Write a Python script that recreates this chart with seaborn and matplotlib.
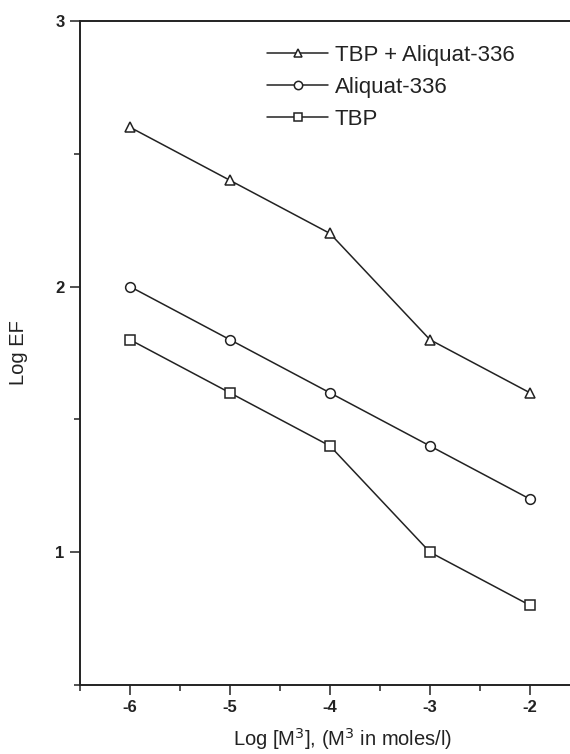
import pandas as pd
import seaborn as sns
import matplotlib.pyplot as plt
from matplotlib.ticker import MultipleLocator

# data
log_m = [-6, -5, -4, -3, -2]
tbp_aliquat = [2.6, 2.4, 2.2, 1.8, 1.6]
aliquat = [2.0, 1.8, 1.6, 1.4, 1.2]
tbp = [1.8, 1.6, 1.4, 1.0, 0.8]
series_names = ['TBP + Aliquat-336', 'Aliquat-336', 'TBP']
series_markers = ['^', 'o', 's']

df = pd.concat([
    pd.DataFrame({'x': log_m, 'y': vals, 'series': name})
    for name, vals in zip(series_names, [tbp_aliquat, aliquat, tbp])
])

sns.set_style('ticks')
plt.rcParams['font.family'] = ['Liberation Sans', 'DejaVu Sans']
plt.rcParams['axes.unicode_minus'] = False
plt.rcParams['xtick.labelsize'] = 12
plt.rcParams['ytick.labelsize'] = 12

fig = plt.figure(figsize=(5.7, 7.54), dpi=100)
ax = fig.add_axes([80 / 570, 1 - 685 / 754, 490 / 570, 664 / 754])

ink = '#222222'
sns.lineplot(data=df, x='x', y='y', hue='series', style='series',
             hue_order=series_names, style_order=series_names,
             palette=[ink] * 3, markers=dict(zip(series_names, series_markers)),
             dashes=False, linewidth=1.1, markersize=7,
             markerfacecolor='white', markeredgecolor=ink, markeredgewidth=1.1,
             legend=False, ax=ax)

ax.set_xlim(-6.5, -1.6)
ax.set_ylim(0.5, 3.0)
ax.xaxis.set_major_locator(MultipleLocator(1))
ax.xaxis.set_minor_locator(MultipleLocator(0.5))
ax.set_yticks([1, 2, 3])
ax.set_yticks([0.5, 1.5, 2.5], minor=True)

for s in ['left', 'bottom', 'top']:
    ax.spines[s].set_linewidth(1.4)
    ax.spines[s].set_color(ink)
ax.spines['right'].set_visible(False)

ax.tick_params(which='major', direction='out', length=7, width=1.1, color=ink,
               pad=4, top=False, right=False, labelcolor=ink)
ax.tick_params(which='minor', direction='out', length=4, width=1.1, color=ink,
               top=False, right=False)
for lab in ax.get_xticklabels() + ax.get_yticklabels():
    lab.set_fontweight('bold')
    lab.set_fontsize(12)

ax.set_xlabel('Log [M$^3$], (M$^3$ in moles/l)', fontsize=14.5, color=ink)
ax.set_ylabel('Log EF', fontsize=14.5, color=ink)
ax.xaxis.set_label_coords(0.535, -0.062)
ax.yaxis.set_label_coords(-0.106, 0.5)

leg = ax.legend(handles=ax.lines, labels=series_names, loc='upper left',
                bbox_to_anchor=(267 / 570, 1 - 45 / 754), bbox_transform=fig.transFigure,
                frameon=False, fontsize=16, handlelength=2.75, handletextpad=0.3,
                labelspacing=0.5, borderpad=0, borderaxespad=0, numpoints=1)
for t in leg.get_texts():
    t.set_color(ink)
for h in leg.legend_handles:
    h.set_markersize(6)

fig.savefig('out.png', dpi=100)
